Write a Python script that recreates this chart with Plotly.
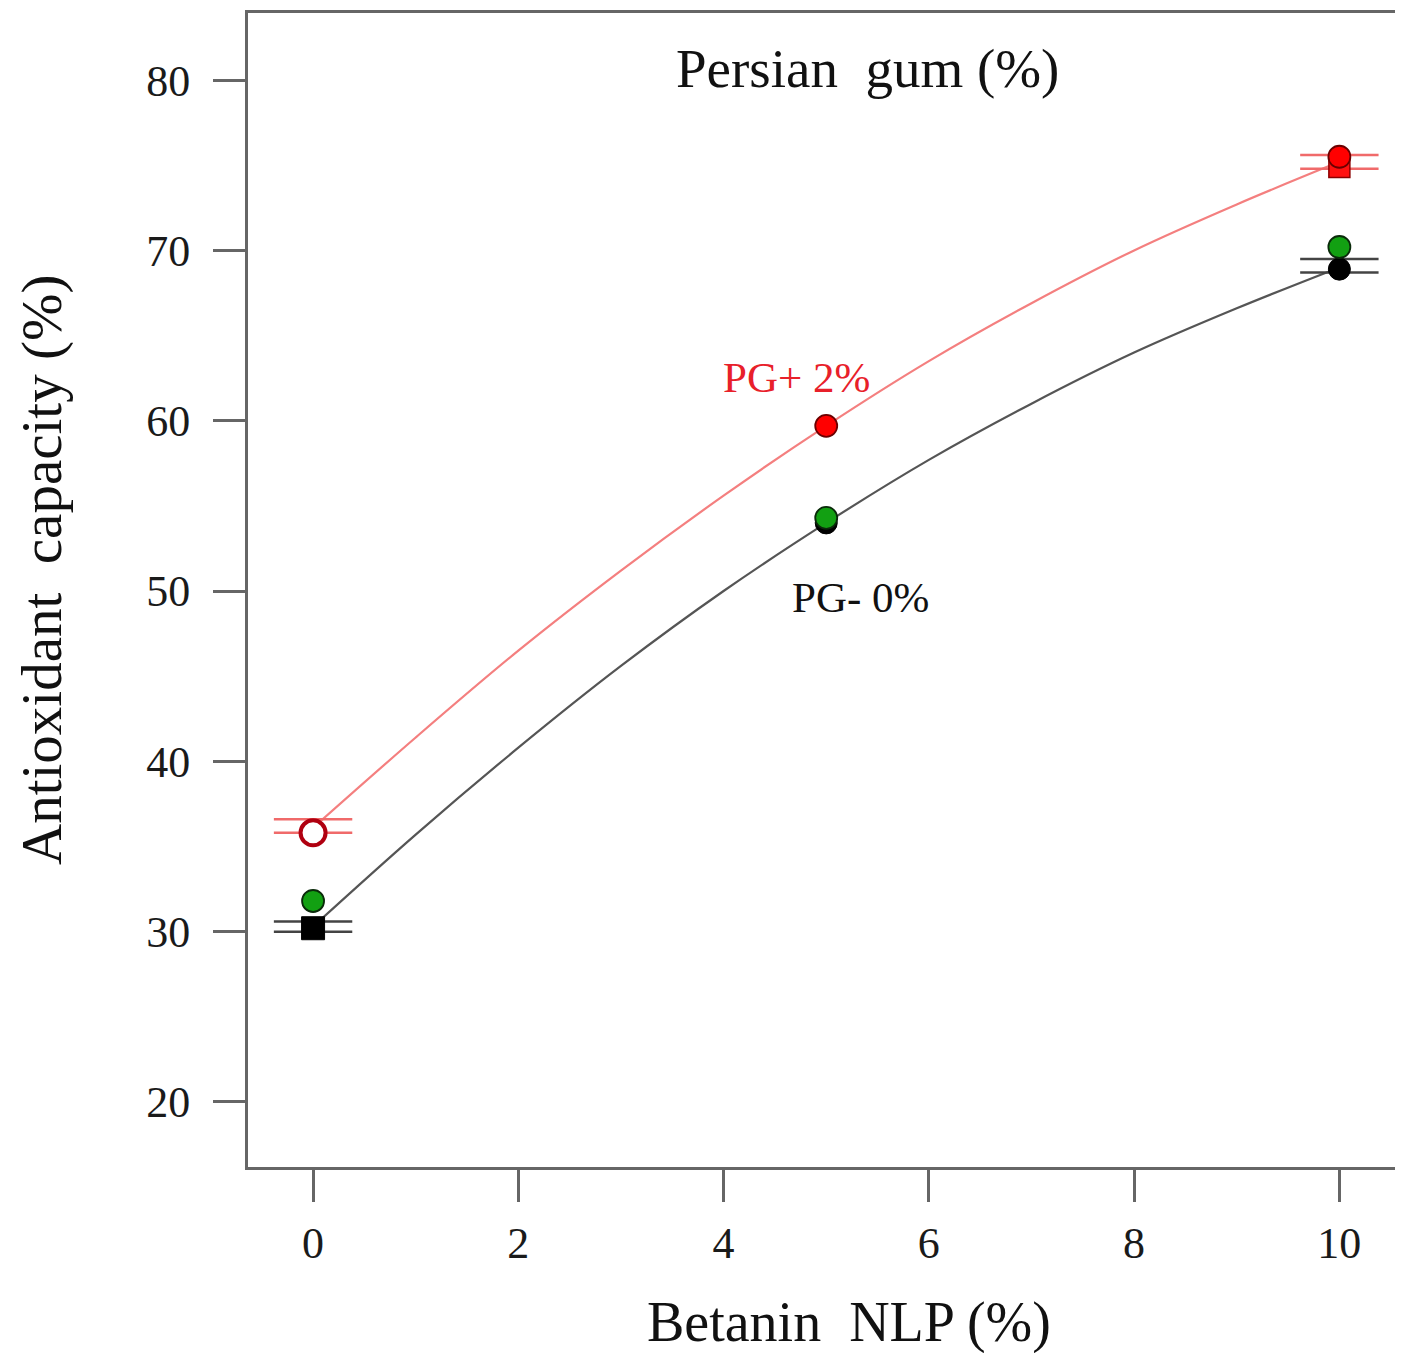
import plotly.graph_objects as go

# ---- data ----
nlp_levels = [0, 5, 10]

# fitted curves
curve_x = [0, 1, 2, 3, 4, 5, 6, 7, 8, 9, 10]
curve_pg2 = [36.1, 41.4, 46.5, 51.2, 55.6, 59.7, 63.5, 66.9, 70.0, 72.7, 75.2]
curve_pg0 = [30.3, 35.7, 40.8, 45.6, 50.0, 54.0, 57.7, 61.0, 64.0, 66.6, 69.0]

# observed points
pg2_obs = [35.8, 59.7, 75.5]
pg0_obs_green = [31.8, 54.3, 70.2]
pg0_obs_black = [30.2, 54.0, 68.9]

# LSD bars (upper, lower)
lsd_x = [0, 10]
pg2_lsd_hi = [36.6, 75.6]
pg2_lsd_lo = [35.8, 74.8]
pg0_lsd_hi = [30.6, 69.5]
pg0_lsd_lo = [30.0, 68.7]

x_ticks = [0, 2, 4, 6, 8, 10]
y_ticks = [20, 30, 40, 50, 60, 70, 80]

FONT = "Liberation Serif, Times New Roman, serif"

fig = go.Figure()

# curves
fig.add_trace(go.Scatter(x=curve_x, y=curve_pg2, mode="lines", line=dict(color="#f47f7f", width=2.2, shape="spline"), showlegend=False, hoverinfo="skip"))
fig.add_trace(go.Scatter(x=curve_x, y=curve_pg0, mode="lines", line=dict(color="#555555", width=2.2, shape="spline"), showlegend=False, hoverinfo="skip"))

# LSD bars as horizontal ticks
def bars(xs, ys, color):
    fig.add_trace(go.Scatter(x=xs, y=ys, mode="markers",
                             marker=dict(symbol="line-ew", size=56, line=dict(color=color, width=2.5)),
                             showlegend=False, hoverinfo="skip"))

bars(lsd_x, pg2_lsd_hi, "#f06a6a")
bars(lsd_x, pg2_lsd_lo, "#f06a6a")
bars(lsd_x, pg0_lsd_hi, "#444444")
bars(lsd_x, pg0_lsd_lo, "#444444")

# predicted markers
fig.add_trace(go.Scatter(x=[10], y=[74.9], mode="markers",
                         marker=dict(symbol="square", size=21, color="#ff1010", line=dict(color="#8b0000", width=1.5)),
                         showlegend=False))
fig.add_trace(go.Scatter(x=[0], y=[30.2], mode="markers",
                         marker=dict(symbol="square", size=23, color="black", line=dict(color="black", width=1)),
                         showlegend=False))

# black observed (behind green)
fig.add_trace(go.Scatter(x=nlp_levels[1:], y=pg0_obs_black[1:], mode="markers",
                         marker=dict(symbol="circle", size=22, color="black", line=dict(color="black", width=1)),
                         showlegend=False))
# green observed
fig.add_trace(go.Scatter(x=nlp_levels, y=pg0_obs_green, mode="markers",
                         marker=dict(symbol="circle", size=22, color="#12a012", line=dict(color="#0a2a0a", width=1.8)),
                         showlegend=False))
# red observed
fig.add_trace(go.Scatter(x=nlp_levels[1:], y=pg2_obs[1:], mode="markers",
                         marker=dict(symbol="circle", size=22, color="#ff0000", line=dict(color="#6b0000", width=1.8)),
                         showlegend=False))
fig.add_trace(go.Scatter(x=nlp_levels[:1], y=pg2_obs[:1], mode="markers",
                         marker=dict(symbol="circle", size=25, color="white", line=dict(color="#b00010", width=4)),
                         showlegend=False))

# page has an 8px body offset: plot area lands at 248..1403 x 13..1167
W, H = 1395, 1345
L, T, B = 240, 5, 186
PW, PH = W - L, H - T - B

fig.update_layout(
    width=W, height=H,
    margin=dict(l=L, r=0, t=T, b=B),
    paper_bgcolor="white", plot_bgcolor="white",
    font=dict(family=FONT, color="#1a1a1a"),
    xaxis=dict(range=[-0.634, 10.62], tickvals=x_ticks, ticks="outside", ticklen=32, tickwidth=2.5,
               tickcolor="#666666", showline=True, linecolor="#666666", linewidth=3, mirror=True,
               showgrid=False, zeroline=False, tickfont=dict(size=44, family=FONT, color="#1a1a1a"),
               ticklabelstandoff=3),
    yaxis=dict(range=[16.18, 83.94], tickvals=y_ticks, ticks="outside", ticklen=32, tickwidth=2.5,
               tickcolor="#666666", showline=True, linecolor="#666666", linewidth=3, mirror=False,
               showgrid=False, zeroline=False, tickfont=dict(size=44, family=FONT, color="#1a1a1a"),
               ticklabelstandoff=14),
    annotations=[
        dict(x=5.4, y=80.7, xref="x", yref="y", text="Persian  gum (%)", showarrow=False,
             font=dict(size=55, family=FONT, color="#111111")),
        dict(x=4.71, y=62.55, xref="x", yref="y", text="PG+ 2%", showarrow=False,
             font=dict(size=43, family=FONT, color="#e8202a"), xanchor="center"),
        dict(x=5.33, y=49.6, xref="x", yref="y", text="PG- 0%", showarrow=False,
             font=dict(size=43, family=FONT, color="#111111")),
        dict(x=(849 - 248) / PW, y=-(1322 - 1167) / PH, xref="paper", yref="paper",
             text="Betanin  NLP (%)", showarrow=False, yanchor="middle",
             font=dict(size=56, family=FONT, color="#111111")),
        dict(x=-(248 - 42) / PW, y=(1167 - 570) / PH, xref="paper", yref="paper",
             text="Antioxidant  capacity (%)", showarrow=False, textangle=-90, xanchor="center",
             font=dict(size=57, family=FONT, color="#111111")),
    ],
)

fig.write_html("out.html")
